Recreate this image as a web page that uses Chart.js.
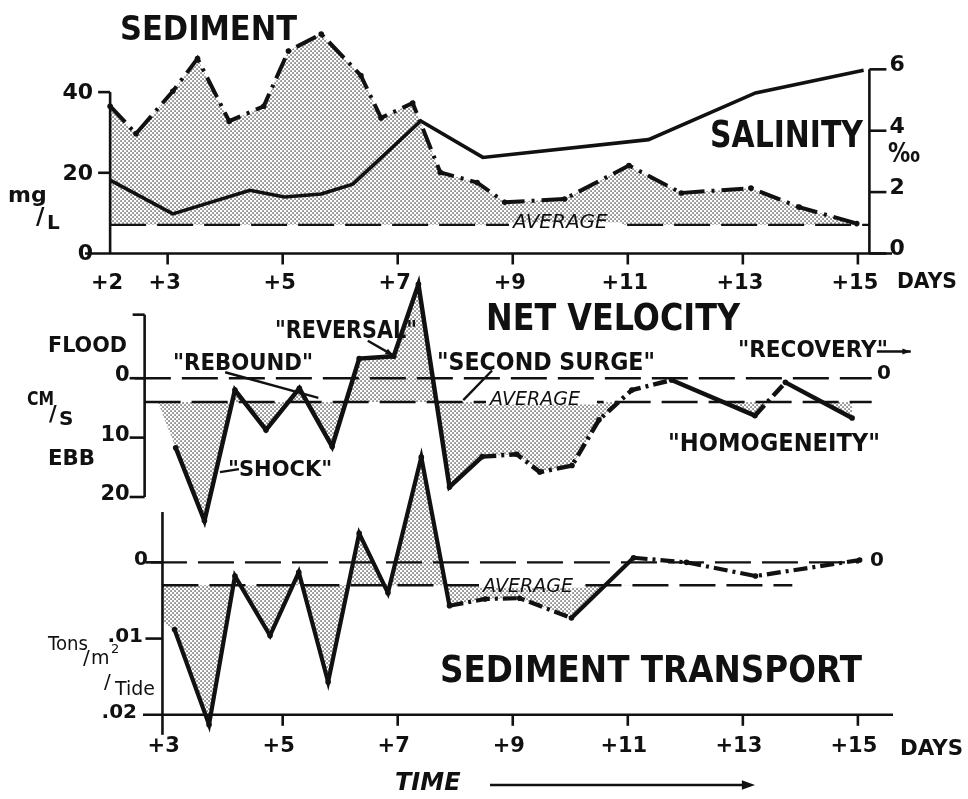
<!DOCTYPE html>
<html>
<head>
<meta charset="utf-8">
<script src="https://cdn.jsdelivr.net/npm/chart.js@4.4.0/dist/chart.umd.min.js"></script>
<style>
  html, body { margin: 0; padding: 0; background: #fff; }
  #wrap { width: 968px; height: 799px; }
  canvas { display: block; }
</style>
</head>
<body>
<div id="wrap"><canvas id="grafica" width="968" height="799" style="width:968px;height:799px"></canvas></div>
<script>
// ---- values ----
const sedDays = [2.0, 2.45, 3.09, 3.52, 4.07, 4.67, 5.10, 5.67, 6.36, 6.71, 7.26, 7.74, 8.38, 8.86, 9.90, 11.02, 11.93, 13.14, 13.98, 14.98];
const sedMgL  = [36.5, 29.7, 40.2, 48.3, 32.8, 36.5, 50.2, 54.4, 44.1, 33.6, 37.3, 20.1, 17.6, 12.7, 13.5, 21.8, 15.0, 16.2, 11.5, 7.4];
const sedAverage = 7.1;

const salDays   = [2.0, 3.09, 4.43, 5.03, 5.67, 6.22, 7.40, 8.48, 11.36, 13.22, 15.10];
const salPermil = [2.39, 1.29, 2.06, 1.84, 1.94, 2.26, 4.32, 3.13, 3.71, 5.23, 5.97];

// net velocity, cm/s, ebb positive (drawn downward)
const velDays = [2.83, 3.14, 3.64, 4.17, 4.71, 5.29, 5.86, 6.33, 6.93, 7.36, 7.90, 8.47, 9.07, 9.47, 10.03, 10.50, 11.07, 11.76, 13.21, 13.74, 14.90];
const velCms  = [4.0, 11.7, 24.0, 2.0, 8.7, 1.7, 11.5, -3.3, -3.7, -15.8, 18.3, 13.2, 12.8, 15.8, 14.7, 7.0, 2.0, 0.3, 6.3, 0.7, 6.7];
const velAverage = 4.0;

// sediment transport, tons/m2/tide, export positive (drawn downward)
const trDays = [2.91, 3.12, 3.72, 4.17, 4.78, 5.28, 5.79, 6.33, 6.83, 7.41, 7.90, 8.52, 9.12, 10.02, 11.10, 12.02, 13.22, 15.03];
const trTons = [0.0079, 0.0088, 0.0213, 0.0018, 0.0096, 0.0013, 0.0157, -0.0038, 0.0040, -0.0138, 0.0057, 0.0048, 0.0047, 0.0073, -0.0006, 0.0000, 0.0018, -0.0003];
const trAverage = 0.003;

const sedTicks = [0, 20, 40];
const salTicks = [0, 2, 4, 6];
const velTicks = [0, 10, 20];
const trTicks = [0, 0.01, 0.02];
const trTickLabels = ['0', '.01', '.02'];
const topDayLabels = [2, 3, 5, 7, 9, 11, 13, 15];
const bottomDayLabels = [3, 5, 7, 9, 11, 13, 15];

// ---- layout: which pixel each value lands on ----
const W = 968, H = 799;
function mapRange(v0, p0, v1, p1, size) {
    const k = (p1 - p0) / (v1 - v0);
    const a = v0 - p0 / k, b = v0 + (size - p0) / k;
    return { min: Math.min(a, b), max: Math.max(a, b), reverse: k > 0 };
}
const xRange = mapRange(2, 107, 15, 861, W);

const canvas = document.getElementById('grafica');
const ctx = canvas.getContext('2d');

// stipple used for the shaded areas
const tile = document.createElement('canvas');
tile.width = 4; tile.height = 4;
const tg = tile.getContext('2d');
tg.fillStyle = '#222';
tg.fillRect(0.4, 0.4, 1.3, 1.3);
tg.fillRect(2.4, 2.4, 1.3, 1.3);
const stipple = ctx.createPattern(tile, 'repeat');

const pts = (xs, ys) => xs.map((d, i) => ({ x: d, y: ys[i] }));
const velDashed = [11, 12, 13, 14, 15, 16, 18];
const trDashed = [10, 11, 12, 14, 15, 16];
const velSplit = 15, trSplit = 13;

const pointers = [
    { from: [4.0, -1.0], to: [5.62, 3.3] },              // rebound
    { from: [6.48, -6.3], to: [6.93, -3.8], arrow: true }, // reversal
    { from: [8.64, -1.3], to: [8.14, 3.7] },             // second surge
    { from: [4.24, 15.3], to: [3.91, 15.8] },            // shock
    { from: [15.33, -4.5], to: [15.92, -4.5], arrow: true } // recovery
];

function label(c, s, x, y, size, w, opts) {
    opts = opts || {};
    c.font = (opts.italic ? 'italic ' : '') + (opts.weight || 'bold') + ' ' + size + 'px "DejaVu Sans", sans-serif';
    c.textAlign = opts.align || 'left';
    c.textBaseline = 'alphabetic';
    if (w) c.fillText(s, x, y, w); else c.fillText(s, x, y);
}
function seg(c, x1, y1, x2, y2) {
    c.beginPath(); c.moveTo(x1, y1); c.lineTo(x2, y2); c.stroke();
}
function arrowHead(c, x1, y1, x2, y2, len) {
    const a = Math.atan2(y2 - y1, x2 - x1);
    c.beginPath();
    c.moveTo(x2, y2);
    c.lineTo(x2 - len * Math.cos(a - 0.35), y2 - len * Math.sin(a - 0.35));
    c.lineTo(x2 - len * Math.cos(a + 0.35), y2 - len * Math.sin(a + 0.35));
    c.closePath(); c.fill();
}
// "AVERAGE" sits in a gap of the dashed line
function averageTag(c, x, y, lineY, size, w) {
    c.save();
    c.fillStyle = '#fff';
    c.fillRect(x - 4, lineY - 2.5, w + 8, 5);
    c.restore();
    label(c, 'AVERAGE', x, y, size, w, { italic: true, weight: 'normal' });
}

const drawExtras = {
    id: 'drawExtras',
    afterDraw(chart) {
        const c = chart.ctx, s = chart.scales;
        const X = v => s.x.getPixelForValue(v);
        const Ys = v => s.ySed.getPixelForValue(v);
        const Yl = v => s.ySal.getPixelForValue(v);
        const Yv = v => s.yVel.getPixelForValue(v);
        const Yt = v => s.yTr.getPixelForValue(v);
        c.save();
        c.strokeStyle = '#111'; c.fillStyle = '#111'; c.lineWidth = 2.6;

        // top panel axes
        const xL = X(2), xR = X(15.2), base = Ys(0);
        seg(c, xL, Ys(40), xL, base);
        seg(c, 85, base, 892, base);
        seg(c, xR, Yl(6), xR, base);
        sedTicks.forEach(t => {
            if (t > 0) seg(c, xL - 12, Ys(t), xL, Ys(t));
            label(c, String(t), xL - 17, Ys(t) + 7, 22, null, { align: 'right' });
        });
        salTicks.forEach(t => {
            seg(c, xR, Yl(t), xR + 17, Yl(t));
            label(c, String(t), xR + 20, Yl(t) + 2, 22);
        });
        topDayLabels.forEach(d => {
            if (d > 2) seg(c, X(d), base, X(d), base + 11);
            label(c, '+' + d, X(d) - 3, base + 36, 21, null, { align: 'center' });
        });
        label(c, 'DAYS', 897, 288, 21, 60);
        label(c, 'SEDIMENT', 120, 40, 34, 177);
        label(c, 'SALINITY', 710, 147, 38, 153);
        label(c, '\u2030', 888, 162, 26, 32);
        label(c, 'mg', 8, 202, 22);
        label(c, '/', 36, 224, 23);
        label(c, 'L', 47, 229, 20);
        averageTag(c, 513, 228, Ys(sedAverage), 20, 105);

        // middle panel axes
        const xV = X(2.6);
        seg(c, xV, Yv(-10.7), xV, Yv(20));
        seg(c, xV - 12, Yv(-10.7), xV, Yv(-10.7));
        velTicks.forEach(t => {
            seg(c, xV - 15, Yv(t), xV, Yv(t));
            label(c, String(t), xV - 15, Yv(t) + 3, 21, null, { align: 'right' });
        });
        label(c, 'FLOOD', 48, 352, 21, 79);
        label(c, 'EBB', 48, 465, 22, 47);
        label(c, 'CM', 27, 405, 20, 27);
        label(c, '/', 49, 421, 21);
        label(c, 'S', 59, 425, 20);
        label(c, 'NET VELOCITY', 486, 330, 38, 254);
        label(c, '"REBOUND"', 173, 370, 23, 140);
        label(c, '"REVERSAL"', 275, 338, 24, 142);
        label(c, '"SECOND SURGE"', 437, 370, 24, 218);
        label(c, '"SHOCK"', 228, 476, 21, 109);
        label(c, '"RECOVERY"', 738, 357, 23, 150);
        label(c, '"HOMOGENEITY"', 668, 451, 24, 212);
        label(c, '0', 877, 379, 20);
        averageTag(c, 490, 405, Yv(velAverage), 19, 103);
        c.lineWidth = 2.4;
        pointers.forEach(p => {
            const x1 = X(p.from[0]), y1 = Yv(p.from[1]), x2 = X(p.to[0]), y2 = Yv(p.to[1]);
            seg(c, x1, y1, x2, y2);
            if (p.arrow) arrowHead(c, x1, y1, x2, y2, 9);
        });
        c.lineWidth = 2.6;

        // bottom panel axes
        const xT = X(2.91), bb = Yt(0.02);
        seg(c, xT, Yt(-0.0066), xT, bb + 20);
        seg(c, 143, bb, 893, bb);
        trTicks.forEach((t, i) => {
            if (t < 0.02) seg(c, xT - 17, Yt(t), xT, Yt(t));
            label(c, trTickLabels[i], i === 0 ? 148 : (i === 1 ? 143 : 137), Yt(t) + 3, 20, null, { align: 'right' });
        });
        bottomDayLabels.forEach(d => {
            if (d > 3) seg(c, X(d), bb, X(d), bb + 11);
            label(c, '+' + d, X(d) - 4, bb + 37, 21, null, { align: 'center' });
        });
        label(c, 'DAYS', 900, 755, 22, 63);
        label(c, 'Tons', 48, 650, 19, 40, { weight: 'normal' });
        label(c, '/', 83, 664, 20, null, { weight: 'normal' });
        label(c, 'm', 91, 664, 19, 22, { weight: 'normal' });
        label(c, '2', 111, 653, 13, null, { weight: 'normal' });
        label(c, '/', 104, 688, 20, null, { weight: 'normal' });
        label(c, 'Tide', 115, 695, 19, 42, { weight: 'normal' });
        label(c, '0', 870, 566, 20);
        averageTag(c, 483, 592, Yt(trAverage), 19, 97);
        label(c, 'SEDIMENT TRANSPORT', 440, 682, 37, 422);

        // time arrow
        label(c, 'TIME', 395, 790, 24, 87, { italic: true });
        c.lineWidth = 2.6;
        seg(c, 490, 785, 745, 785);
        arrowHead(c, 490, 785, 755, 785, 14);
        c.restore();
    }
};

const refLine = (axis, x1, x2, v, dash) => ({
    data: [{ x: x1, y: v }, { x: x2, y: v }], yAxisID: axis,
    borderColor: '#111', borderWidth: 2.4, borderDash: dash || [36, 11],
    pointRadius: 0, fill: false, order: 4
});
const dotR = ctx2 => (ctx2.dataIndex === 0 ? 0 : 2.8);

new Chart(ctx, {
    type: 'line',
    data: {
        datasets: [
            {   // sediment concentration
                data: pts(sedDays, sedMgL), yAxisID: 'ySed',
                borderColor: '#111', borderWidth: 4, borderDash: [22, 7, 3, 7],
                pointRadius: 2.8, pointBackgroundColor: '#111', pointBorderWidth: 0,
                fill: { value: sedAverage }, backgroundColor: stipple, order: 2
            },
            {   // salinity
                data: pts(salDays, salPermil), yAxisID: 'ySal',
                borderColor: '#111', borderWidth: 3.6, pointRadius: 0, fill: false, order: 1
            },
            refLine('ySed', 2, 15.2, sedAverage),
            {   // net velocity line
                data: pts(velDays, velCms), yAxisID: 'yVel',
                borderColor: '#111', borderWidth: 4.5,
                pointRadius: dotR, pointBackgroundColor: '#111', pointBorderWidth: 0,
                fill: false, order: 1,
                segment: {
                    borderColor: c => (c.p0DataIndex === 0 ? 'rgba(0,0,0,0)' : undefined),
                    borderDash: c => (velDashed.includes(c.p0DataIndex) ? [14, 5, 3, 5] : undefined)
                }
            },
            {
                data: pts(velDays, velCms).slice(0, velSplit + 1), yAxisID: 'yVel',
                borderWidth: 0, pointRadius: 0, backgroundColor: stipple,
                fill: { value: velAverage }, order: 6
            },
            {
                data: pts(velDays, velCms).slice(velSplit), yAxisID: 'yVel',
                borderWidth: 0, pointRadius: 0, backgroundColor: stipple,
                fill: { target: { value: velAverage }, above: 'rgba(0,0,0,0)', below: stipple }, order: 6
            },
            refLine('yVel', 2.43, 15.24, 0),
            refLine('yVel', 2.6, 15.24, velAverage),
            {   // sediment transport line
                data: pts(trDays, trTons), yAxisID: 'yTr',
                borderColor: '#111', borderWidth: 4.2,
                pointRadius: dotR, pointBackgroundColor: '#111', pointBorderWidth: 0,
                fill: false, order: 1,
                segment: {
                    borderColor: c => (c.p0DataIndex === 0 ? 'rgba(0,0,0,0)' : undefined),
                    borderDash: c => (trDashed.includes(c.p0DataIndex) ? [14, 5, 3, 5] : undefined)
                }
            },
            {
                data: pts(trDays, trTons).slice(0, trSplit + 1), yAxisID: 'yTr',
                borderWidth: 0, pointRadius: 0, backgroundColor: stipple,
                fill: { value: trAverage }, order: 6
            },
            {
                data: pts(trDays, trTons).slice(trSplit, trSplit + 2), yAxisID: 'yTr',
                borderWidth: 0, pointRadius: 0, backgroundColor: stipple,
                fill: { target: { value: trAverage }, above: 'rgba(0,0,0,0)', below: stipple }, order: 6
            },
            refLine('yTr', 2.71, 15.02, 0),
            refLine('yTr', 2.91, 13.86, trAverage)
        ]
    },
    options: {
        responsive: false,
        animation: false,
        events: [],
        layout: { padding: 0 },
        plugins: { legend: { display: false }, tooltip: { enabled: false } },
        scales: {
            x: { type: 'linear', display: false, min: xRange.min, max: xRange.max, bounds: 'data' },
            ySed: Object.assign({ type: 'linear', display: false, bounds: 'data' }, mapRange(0, 252, 40, 89, H)),
            ySal: Object.assign({ type: 'linear', display: false, bounds: 'data' }, mapRange(0, 252, 6, 66, H)),
            yVel: Object.assign({ type: 'linear', display: false, bounds: 'data' }, mapRange(0, 378, 20, 498, H)),
            yTr:  Object.assign({ type: 'linear', display: false, bounds: 'data' }, mapRange(0, 564, 0.02, 718, H))
        }
    },
    plugins: [drawExtras]
});
</script>
</body>
</html>
